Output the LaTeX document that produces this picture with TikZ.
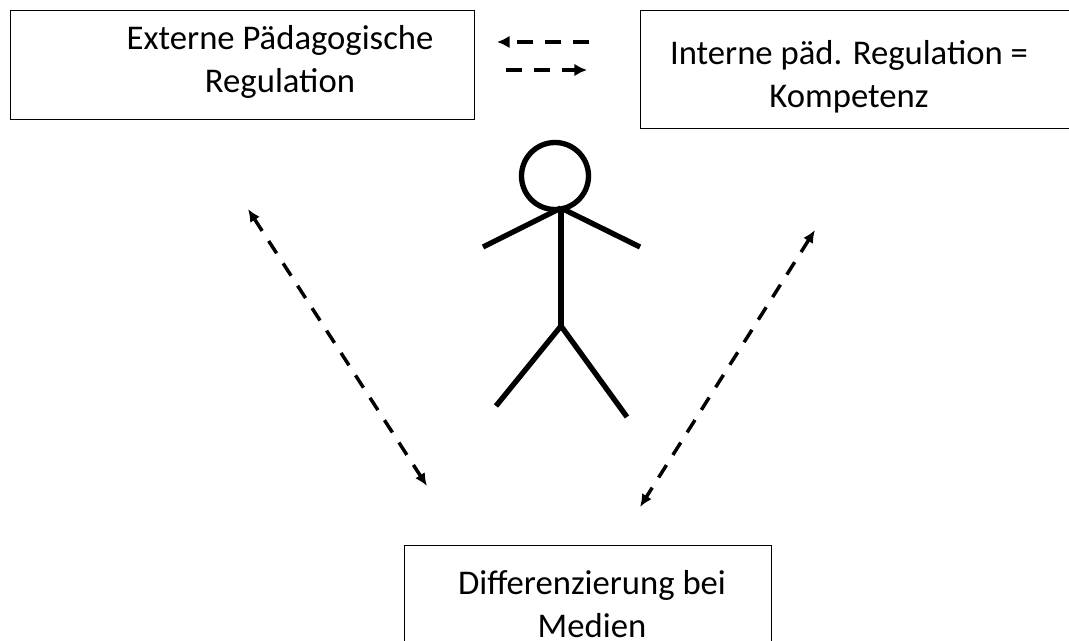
\documentclass[tikz,border=0pt]{standalone}
\usepackage{fontspec}
\setmainfont{Carlito}
\usetikzlibrary{arrows.meta}
\tikzset{
  textbox/.style = {rectangle, draw, line width=0.8pt, anchor=north west},
  boxtext/.style = {align=center, font=\fontsize{26}{32.5}\selectfont},
  dasharrow/.style = {dash pattern=on 12pt off 9pt, line width=2.8pt, -{Latex[length=9.5pt,width=9.5pt]}},
  dashboth/.style = {dash pattern=on 11pt off 9pt, line width=2.6pt, {Latex[length=9.5pt,width=8.5pt]}-{Latex[length=9.5pt,width=8.5pt]}},
  limb/.style = {line width=4pt}
}
\begin{document}
\begin{tikzpicture}[x=0.75pt, y=-0.75pt]
    \useasboundingbox (0,0) rectangle (1069,641);
    \node[textbox, minimum width=464*0.75pt, minimum height=109*0.75pt] (extern) at (10,10) {};
    \node[boxtext] (externtext) at (280,62) {Externe Pädagogische\\Regulation};
    \node[textbox, minimum width=440*0.75pt, minimum height=118*0.75pt] (intern) at (640,10) {};
    \node[boxtext] (interntext) at (849,77) {Interne päd. Regulation =\\Kompetenz};
    \node[textbox, minimum width=367*0.75pt, minimum height=110*0.75pt] (medien) at (404,545) {};
    \node[boxtext] (medientext) at (592,604) {Differenzierung bei\\Medien};
    % person
    \node[circle, draw, line width=4pt, minimum size=67*0.75pt, inner sep=0pt] (head) at (555,176) {};
    \coordinate (neck) at (561,208);
    \coordinate (hip) at (561,326);
    \coordinate (handl) at (483,247);
    \coordinate (handr) at (640,247);
    \coordinate (footl) at (496,406);
    \coordinate (footr) at (627,417);
    \draw[limb] (neck) -- (hip);
    \draw[limb] (neck) -- (handl);
    \draw[limb] (neck) -- (handr);
    \draw[limb] (hip) -- (footl);
    \draw[limb] (hip) -- (footr);
    % arrows
    \coordinate (a1) at (589,42);
    \coordinate (a2) at (497,42);
    \coordinate (b1) at (506,70);
    \coordinate (b2) at (587,70);
    \coordinate (c1) at (248,209);
    \coordinate (c2) at (427,486);
    \coordinate (d1) at (815,230);
    \coordinate (d2) at (640,507);
    \draw[dasharrow] (a1) -- (a2);
    \draw[dasharrow] (b1) -- (b2);
    \draw[dashboth] (c1) -- (c2);
    \draw[dashboth] (d1) -- (d2);
\end{tikzpicture}
\end{document}
